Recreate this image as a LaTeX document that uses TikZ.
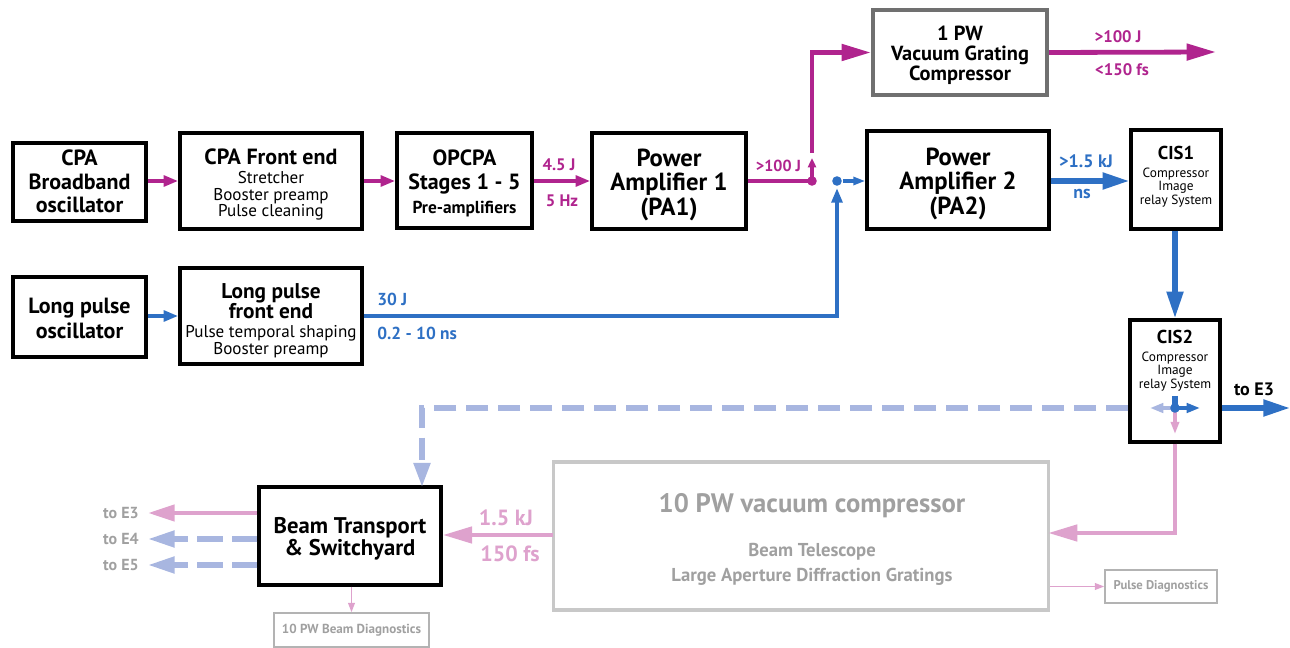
\documentclass[tikz,border=0pt]{standalone}
\usepackage{fontspec}
\setmainfont{PT Sans}
\usetikzlibrary{arrows.meta,calc}
\definecolor{mag}{RGB}{176,36,142}
\definecolor{beamblue}{RGB}{46,112,196}
\definecolor{softpink}{RGB}{222,162,205}
\definecolor{softblue}{RGB}{168,182,224}
\definecolor{greytext}{RGB}{160,160,160}
\definecolor{greyedge}{RGB}{112,112,112}
\definecolor{paleedge}{RGB}{200,200,200}
\newcommand\BoxSub{\fontsize{12.8pt}{12.6pt}\selectfont\mdseries}
\newcommand\BoxSubB{\fontsize{13pt}{13pt}\selectfont\bfseries}
\newcommand\CisSub{\fontsize{10pt}{10pt}\selectfont\mdseries}
\begin{document}
% line spacing in the boxes is set by \baselineskip alone
\lineskiplimit=-100pt
\lineskip=0pt
\begin{tikzpicture}[x=0.75pt,y=-0.75pt,
  box/.style={draw=black,line width=2.6pt,fill=white,inner sep=0pt},
  txt/.style={align=center,inner sep=0pt},
  sz/.style 2 args={minimum width=#1*0.75pt,minimum height=#2*0.75pt},
  tfont/.style={font=\fontsize{16.5pt}{#1}\selectfont\bfseries},
  pfont/.style={font=\fontsize{18.5pt}{18.4pt}\selectfont\bfseries},
  cfont/.style={font=\fontsize{14pt}{10pt}\selectfont\bfseries},
  lbl/.style={font=\fontsize{#1}{#1}\selectfont\bfseries,inner sep=0pt},
  magline/.style={draw=mag,line width=3.6pt},
  blueline/.style={draw=beamblue,line width=3.2pt},
  pinkline/.style={draw=softpink,line width=3.4pt},
  dashline/.style={draw=softblue,line width=3.8pt,dash pattern=on 17pt off 7pt},
  tipS/.style={-{Triangle[length=11pt,width=8pt]}},
  tipM/.style={-{Triangle[length=20pt,width=12pt]}},
  tipL/.style={-{Triangle[length=22pt,width=12pt]}},
  tipT/.style={-{Triangle[length=7pt,width=6pt]}}]
\useasboundingbox (0,0) rectangle (1290,648);

% ---- top row: broadband chain ----
\node[box,sz={133}{78}] (osc1) at (79.5,182) {};
\node[txt,tfont=17.6pt] (osc1t) at (79.5,181.5) {CPA\\Broadband\\oscillator};
\node[box,sz={182}{96}] (fe1) at (271,181) {};
\node[txt,tfont=12.6pt] (fe1t) at (271,184.5)
  {CPA Front end\\[1.8pt]\BoxSub Stretcher\\\BoxSub Booster preamp\\\BoxSub Pulse cleaning};
\node[box,sz={135}{95}] (opc) at (464.5,180.5) {};
\node[txt,tfont=18pt] (opct) at (464.5,183.5)
  {OPCPA\\Stages 1 - 5\\\BoxSubB Pre-amplifiers};
\node[box,sz={154}{96}] (pa1) at (669,181) {};
\node[txt,pfont] (pa1t) at (669,184.5) {Power\\Amplifier 1\\(PA1)};
\node[box,sz={182}{98}] (pa2) at (958,180) {};
\node[txt,pfont] (pa2t) at (958,183.5) {Power\\Amplifier 2\\(PA2)};
\node[box,sz={90}{99}] (cis1) at (1176,179.5) {};
\node[txt,anchor=north,cfont] (cis1t) at (1176,146)
  {CIS1\\[3.5pt]\CisSub Compressor\\\CisSub Image\\\CisSub relay System};
\node[box,draw=greyedge,line width=3pt,sz={174}{85}] (pw1) at (960,52.5) {};
\node[txt,font=\fontsize{15.3pt}{15pt}\selectfont\bfseries] (pw1t) at (960,55)
  {1 PW\\Vacuum Grating\\Compressor};

% ---- second row: long pulse chain ----
\node[box,sz={133}{80}] (osc2) at (79.5,317) {};
\node[txt,font=\fontsize{16.5pt}{19pt}\selectfont\bfseries] (osc2t) at (79.5,318.5)
  {Long pulse\\oscillator};
\node[box,sz={182}{96}] (fe2) at (271,316) {};
\node[txt,font=\fontsize{16pt}{12.75pt}\selectfont\bfseries] (fe2t) at (271,320.5)
  {Long pulse\\[2.25pt]front end\\[1.2pt]\BoxSub Pulse temporal shaping\\\BoxSub Booster preamp};
\node[box,sz={90}{122}] (cis2) at (1175,381) {};
\node[txt,anchor=north,cfont] (cis2t) at (1175,330)
  {CIS2\\[3.5pt]\CisSub Compressor\\\CisSub Image\\\CisSub relay System};

% ---- bottom row: compression and transport ----
\node[draw=paleedge,line width=2.4pt,sz={495}{148},inner sep=0pt] (cmp) at (801,536) {};
\node[txt,text=greytext,font=\fontsize{14pt}{18.75pt}\selectfont\bfseries] (cmpt) at (812,539)
  {\fontsize{20pt}{20pt}\selectfont 10 PW vacuum compressor\\[14.25pt]
   Beam Telescope\\Large Aperture Diffraction Gratings};
\node[box,sz={182}{98}] (bt) at (350,536) {};
\node[txt,font=\fontsize{17pt}{16.5pt}\selectfont\bfseries] (btt) at (350,539)
  {Beam Transport\\\& Switchyard};
\node[draw=greytext!80,line width=1.1pt,sz={112}{33},text=greytext,inner sep=0pt,
  font=\fontsize{9.5pt}{10pt}\selectfont\bfseries] (pd) at (1161,586.5) {Pulse Diagnostics};
\node[draw=greytext!80,line width=1.1pt,sz={155}{34},text=greytext,inner sep=0pt,
  font=\fontsize{9.8pt}{10pt}\selectfont\bfseries] (bd) at (351.5,630) {10 PW Beam Diagnostics};

% ---- junction points ----
\coordinate (jm) at (812,181);
\coordinate (mup) at (812,153);
\coordinate (jb) at (837,181);
\coordinate (jbin) at (837,188);
\coordinate (pwout) at (1216,52);
\coordinate (jc) at (1175,408);
\coordinate (jcstub) at (1175,396);
\coordinate (jcR) at (1200,408);
\coordinate (jcL) at (1150,408);
\coordinate (jcD) at (1175,434);
\coordinate (toE3r) at (1290,408);
\coordinate (btin) at (422,487);
\coordinate (cmpin) at (1048,533);
\coordinate (cmpout) at (553,535);
\coordinate (tE3) at (148,513);
\coordinate (tE4) at (148,539);
\coordinate (tE5) at (148,565);

% ---- magenta (broadband) beam ----
\draw[magline,tipS] (osc1.east |- jm) -- (fe1.west |- jm);
\draw[magline,tipS] (fe1.east |- jm) -- (opc.west |- jm);
\draw[magline,tipS] (opc.east |- jm) -- (pa1.west |- jm);
\draw[magline] (pa1.east |- jm) -- (jm);
\fill[mag] (jm) circle[radius=3.6pt];
\draw[magline,line width=3pt,tipT] (jm) -- ++(0,-23);
\draw[magline,tipL] (mup) |- (pw1.west);
\draw[magline,tipL] (pw1.east) -- (pwout);
\node[lbl=12.5pt,text=mag] (l45) at (559,165) {4.5 J};
\node[lbl=12.5pt,text=mag] (l5hz) at (562,201) {5 Hz};
\node[lbl=12pt,text=mag] (l100a) at (778.5,166) {>100 J};
\node[lbl=12.5pt,text=mag] (l100b) at (1118,37) {>100 J};
\node[lbl=12.5pt,text=mag] (l150) at (1122,70) {<150 fs};

% ---- blue (long pulse) beam ----
\draw[blueline,tipS] (osc2.east |- fe2.west) -- (fe2.west);
\draw[blueline,tipS] (fe2.east) -| (jbin);
\fill[beamblue] (jb) circle[radius=3.6pt];
\draw[blueline,line width=2.4pt,-{Triangle[length=9pt,width=6pt]}] ($(jb)+(6,0)$) -- (pa2.west |- jb);
\draw[blueline,line width=3.8pt,tipM] (pa2.east |- jb) -- (cis1.west |- jb);
\draw[blueline,line width=3.8pt,tipM] (cis1.south -| cis2.north) -- (cis2.north);
\node[lbl=13.5pt,text=beamblue] (l15kj) at (1086,161) {>1.5 kJ};
\node[lbl=13.5pt,text=beamblue] (lns) at (1082,194) {ns};
\node[lbl=13pt,text=beamblue,anchor=west] (l30) at (377,299) {30 J};
\node[lbl=13pt,text=beamblue,anchor=west] (l02) at (377,333) {0.2 - 10 ns};

% ---- switching inside CIS2 ----
\draw[softblue,line width=3pt,-{Triangle[length=10pt,width=7pt]}] (jc) -- (jcL);
\draw[softpink,line width=2.6pt,-{Triangle[length=9pt,width=6pt]}] (jc) -- (jcD);
\draw[beamblue,line width=3pt,-{Triangle[length=10pt,width=7pt]}] (jc) -- (jcR);
\draw[beamblue,line width=4pt] (jcstub) -- (jc);
\fill[beamblue] (jc) circle[radius=3.6pt];
\draw[blueline,line width=3.8pt,tipM] (cis2.east |- jc) -- (toE3r);
\node[lbl=13.5pt] (lE3r) at (1254,389) {to E3};

% ---- outputs towards the experimental areas ----
\draw[dashline,-{Triangle[length=18pt,width=12pt]}] (cis2.west |- jc) -| (btin);
\draw[pinkline,tipL] (cis2.south) |- (cmpin);
\draw[pinkline,tipL] (cmpout) -- (cmpout -| bt.east);
\node[lbl=16.5pt,text=softpink] (l15) at (506,518) {1.5 kJ};
\node[lbl=16.5pt,text=softpink] (l150fs) at (510,554) {150 fs};
\draw[pinkline,tipM] (tE3 -| bt.west) -- (tE3);
\draw[dashline,dash pattern=on 19pt off 7pt,tipM] (tE4 -| bt.west) -- (tE4);
\draw[dashline,dash pattern=on 19pt off 7pt,tipM] (tE5 -| bt.west) -- (tE5);
\node[lbl=12pt,text=greytext,anchor=east] (lE3) at (139,513) {to E3};
\node[lbl=12pt,text=greytext,anchor=east] (lE4) at (139,539) {to E4};
\node[lbl=12pt,text=greytext,anchor=east] (lE5) at (139,565) {to E5};
\draw[softpink,line width=1.3pt,-{Triangle[length=7pt,width=5pt]}] (bt.south -| bd.north) -- (bd.north);
\draw[softpink,line width=1.3pt,-{Triangle[length=7pt,width=5pt]}] (cmp.east |- pd.west) -- (pd.west);
\end{tikzpicture}
\end{document}
